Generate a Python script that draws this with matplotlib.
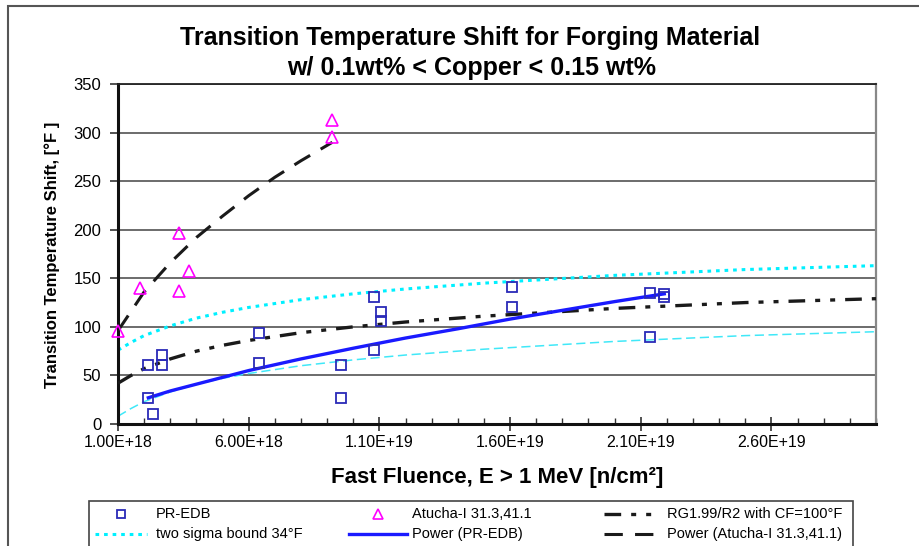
import numpy as np
import matplotlib

matplotlib.use("Agg")
import matplotlib.pyplot as plt
from matplotlib.lines import Line2D
from matplotlib.patches import Rectangle

plt.rcParams['font.family'] = ['Liberation Sans', 'DejaVu Sans']

# surveillance data, fluence in units of 1e18 n/cm^2
pr_edb_fluence = [2.16, 2.35, 2.16, 2.69, 2.69, 6.41, 6.41, 9.54, 9.54, 10.78,
                  11.06, 11.06, 10.78, 16.08, 16.08, 21.36, 21.9, 21.9, 21.36]
pr_edb_shift = [26.5, 10, 60.7, 60.7, 71, 94, 63, 60.7, 26.5, 131,
                115.6, 105.8, 76, 141.4, 120.8, 135, 133.5, 130.5, 90]

atucha_fluence = [1.0, 1.84, 3.35, 3.35, 3.73, 9.2, 9.2]
atucha_shift = [96, 139.7, 197, 137, 157.6, 313, 295]

# RG1.99/R2 curve and +/- two sigma bound
rg_fluence = [1, 1.5, 2, 3, 4, 5, 6, 8, 10, 12, 15, 20, 25, 30]
rg_shift = [42, 50, 57, 67, 75, 81, 86, 94, 100, 105, 111, 119, 125, 129]
sigma_upper = [76, 84, 91, 101, 109, 115, 120, 128, 134, 139, 145, 153, 159, 163]
sigma_lower = [8, 16, 23, 33, 41, 47, 52, 60, 66, 71, 77, 85, 91, 95]

# power-law trend lines
pow_pr_fluence = [2.16, 3, 4, 5, 6, 7, 8, 10, 12, 14, 16, 18, 20, 21.9]
pow_pr_shift = [27, 34, 41, 48, 55, 61, 67, 78, 88.5, 98, 108, 117, 126, 134]
pow_at_fluence = [1, 2, 3, 4, 5, 6, 7, 8, 9.2]
pow_at_shift = [96, 136, 166, 192, 214, 235, 254, 271, 290]

x_ticks = [1, 6, 11, 16, 21, 26]
x_labels = ["{:.2E}".format(t * 1e18) for t in x_ticks]
y_ticks = list(range(0, 351, 50))

W, H = 919, 546
fig = plt.figure(figsize=(W / 100, H / 100), dpi=100)
fig.patch.set_facecolor('white')


def fx(px):
    return px / W


def fy(py):
    return 1 - py / H


# outer chart frame
fig.patches.append(Rectangle((fx(8), -0.1), 1.2, fy(6) + 0.1, transform=fig.transFigure,
                             fill=False, edgecolor='#555555', linewidth=1.5))

ax = fig.add_axes([fx(118), fy(424), (876 - 118) / W, (424 - 84) / H])

styles = {
    'pr': dict(linestyle='none', marker='s', markerfacecolor='none',
               markeredgecolor='#2a2ab8', markeredgewidth=1.3),
    'at': dict(linestyle='none', marker='^', markerfacecolor='none',
               markeredgecolor='#ff00ff', markeredgewidth=1.2),
    'rg': dict(color='#1a1a1a', linestyle=(0, (5, 3, 1.5, 3, 1.5, 3)), linewidth=2.4),
    'sig': dict(color='#00f0ff', linestyle=(0, (1.2, 1.6)), linewidth=2.2),
    'pow_pr': dict(color='#1a1aff', linewidth=2.4),
    'pow_at': dict(color='#1a1a1a', linestyle=(0, (6, 4)), linewidth=2.2),
}

ax.plot(rg_fluence, sigma_upper, zorder=2, **styles['sig'])
ax.plot(rg_fluence, sigma_lower, color='#40e8f8', linestyle=(0, (6, 3)), linewidth=1.1, zorder=2)
ax.plot(rg_fluence, rg_shift, zorder=3, **styles['rg'])
ax.plot(pow_at_fluence, pow_at_shift, zorder=3, **styles['pow_at'])
ax.plot(pow_pr_fluence, pow_pr_shift, zorder=4, **styles['pow_pr'])
ax.plot(pr_edb_fluence, pr_edb_shift, markersize=6.5, zorder=5, **styles['pr'])
ax.plot(atucha_fluence, atucha_shift, markersize=8, zorder=5, clip_on=False, **styles['at'])

ax.set_xlim(1, 30)
ax.set_ylim(0, 350)
ax.set_xticks(x_ticks, x_labels, fontsize=11.5)
ax.set_xticks(np.arange(1, 31, 1), minor=True)
ax.set_yticks(y_ticks, [str(v) for v in y_ticks], fontsize=12)
ax.tick_params(axis='x', which='major', direction='inout', length=10, width=1.2, pad=3, color='#333333')
ax.tick_params(axis='x', which='minor', direction='in', length=4, width=1, color='#333333')
ax.tick_params(axis='y', which='major', direction='out', length=6, width=1.2, pad=6, color='#333333')
ax.yaxis.grid(True, color='#444444', linewidth=1.1)
ax.set_axisbelow(True)

for side in ('left', 'bottom'):
    ax.spines[side].set_linewidth(2.2)
    ax.spines[side].set_color('#111111')
ax.spines['top'].set_linewidth(1.3)
ax.spines['top'].set_color('#222222')
ax.spines['right'].set_linewidth(1.6)
ax.spines['right'].set_color('#888888')

fig.text(fx(470), fy(38), "Transition Temperature Shift for Forging Material",
         ha='center', va='center', fontsize=18, fontweight='bold')
fig.text(fx(472), fy(68), "w/ 0.1wt% < Copper < 0.15 wt%",
         ha='center', va='center', fontsize=18, fontweight='bold')
fig.text(fx(52), fy(255), "Transition Temperature Shift, [°F ]", rotation=90,
         ha='center', va='center', fontsize=12, fontweight='bold')
fig.text(fx(497), fy(478), "Fast Fluence, E > 1 MeV [n/cm²]",
         ha='center', va='center', fontsize=16, fontweight='bold')

# legend box below the chart, laid out as three columns of two rows
fig.patches.append(Rectangle((fx(89), -0.1), (853 - 89) / W, fy(501) + 0.1,
                             transform=fig.transFigure, fill=False,
                             edgecolor='#444444', linewidth=1.2))
legend_items = [
    ('pr', "PR-EDB", 95, 147, 156, 514),
    ('sig', "two sigma bound 34°F", 95, 147, 156, 534),
    ('at', "Atucha-I 31.3,41.1", 349, 407, 412, 514),
    ('pow_pr', "Power (PR-EDB)", 349, 407, 412, 534),
    ('rg', "RG1.99/R2 with CF=100°F", 604, 658, 667, 514),
    ('pow_at', "Power (Atucha-I 31.3,41.1)", 604, 658, 667, 534),
]
for key, text, x0, x1, xt, yrow in legend_items:
    st = dict(styles[key])
    if st.get('marker'):
        st['markersize'] = 5.5 if key == 'pr' else 6.5
        xs = [(x0 + x1) / 2 / W]
        ys = [fy(yrow)]
    else:
        xs = [fx(x0), fx(x1)]
        ys = [fy(yrow), fy(yrow)]
    fig.lines.append(Line2D(xs, ys, transform=fig.transFigure, **st))
    fig.text(fx(xt), fy(yrow), text, ha='left', va='center', fontsize=10.5)

fig.savefig("out.png", dpi=100)
